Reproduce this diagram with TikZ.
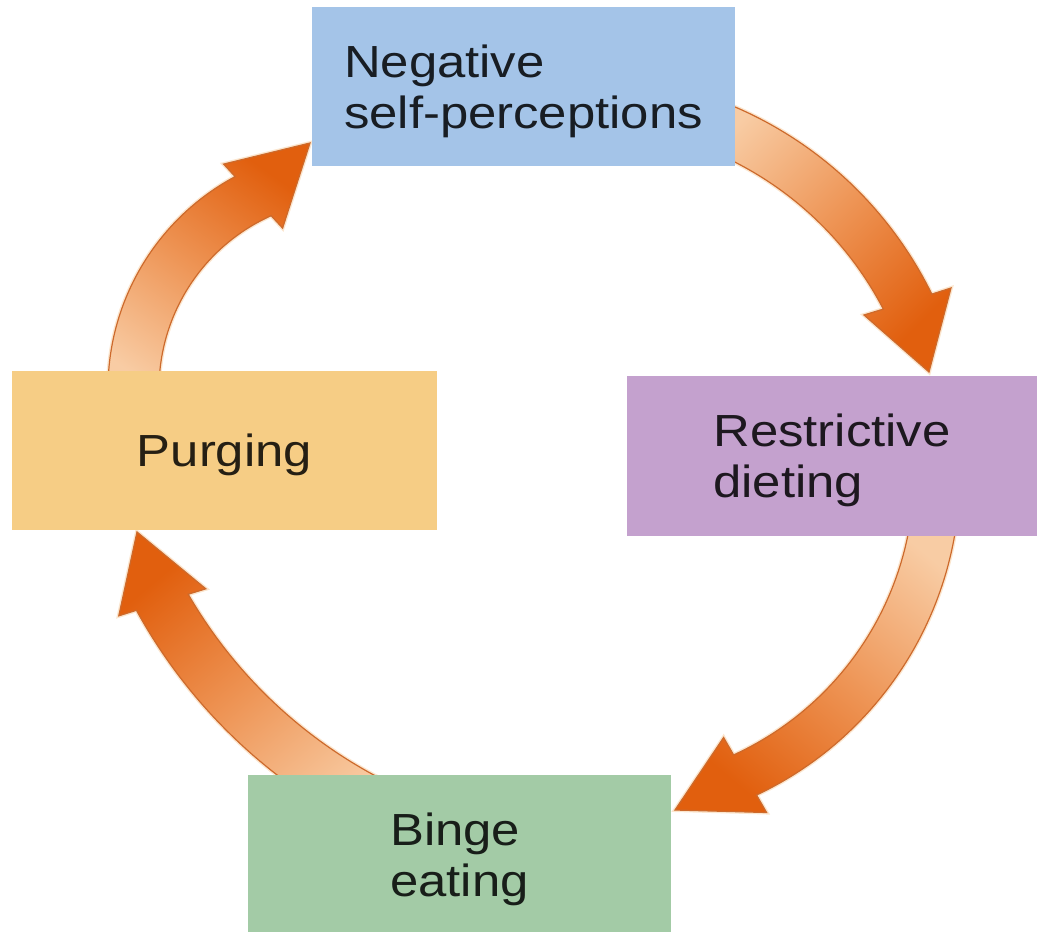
\documentclass[tikz,border=0pt]{standalone}
\usepackage{fontspec}
\setmainfont[FakeStretch=1.13]{Liberation Sans}
\usetikzlibrary{calc}
\definecolor{cneg}{HTML}{A4C4E8}
\definecolor{cres}{HTML}{C4A1CE}
\definecolor{cpur}{HTML}{F6CD85}
\definecolor{cbin}{HTML}{A3CBA6}
\definecolor{arrlight}{HTML}{F8CCA4}
\definecolor{arrmid}{HTML}{EE9556}
\definecolor{arrdark}{HTML}{E15F0E}
\definecolor{arrline}{HTML}{CD6A2C}
\definecolor{arrglow}{HTML}{FBE6CF}
\newcommand\twoline[2]{\vbox{\hbox{#1}\hbox{#2}}}
\tikzset{
  box/.style={rectangle, inner sep=0pt, text depth=0pt, font=\fontsize{45}{51}\selectfont},
  arrowbody/.style={draw=arrline, line width=1.2pt, line join=miter,
    top color=arrlight, bottom color=arrdark, middle color=arrmid,
    preaction={draw=arrglow, line width=4pt}},
}
\begin{document}
\begin{tikzpicture}[x=1pt,y=-1pt]
\useasboundingbox (0,0) rectangle (1037,932);
\coordinate (c1) at (580,467);
\coordinate (c2) at (605,474);
\coordinate (c3) at (602,355);
\coordinate (c4) at (349,389);
% arrow: negative -> restrictive
\path[arrowbody, shading angle=45]
  ($(c1)+(-72:392)$) arc[start angle=-72, end angle=-26.17, radius=392]
  -- (951,288) -- (929,372) -- (864,315)
  -- ($(c1)+(-27.5:342)$) arc[start angle=-27.5, end angle=-72, radius=342]
  -- cycle;
% arrow: restrictive -> binge
\path[arrowbody, shading angle=-40]
  ($(c2)+(5:355)$) arc[start angle=5, end angle=64.73, radius=355]
  -- (766.6,812.5) -- (675,810) -- (723.6,737.5)
  -- ($(c2)+(65.4:309)$) arc[start angle=65.4, end angle=5, radius=309]
  -- cycle;
% arrow: binge -> purging
\path[arrowbody, shading angle=220]
  ($(c3)+(115:531)$) arc[start angle=115, end angle=151.26, radius=531]
  -- (118.8,615.8) -- (137,532) -- (205.8,588.8)
  -- ($(c3)+(149.97:478)$) arc[start angle=149.97, end angle=115, radius=478]
  -- cycle;
% arrow: purging -> negative
\path[arrowbody, shading angle=145]
  ($(c4)+(175:241)$) arc[start angle=175, end angle=241.8, radius=241]
  -- (223.6,164.1) -- (310,143) -- (282.6,228.1)
  -- ($(c4)+(245.8:190)$) arc[start angle=245.8, end angle=175, radius=190]
  -- cycle;
% boxes
\node[box, fill=cneg, text=cneg!15!black, minimum width=423pt, minimum height=159pt] (neg) at (523.5,86.5) {\twoline{Negative}{self-perceptions}};
\node[box, fill=cres, text=cres!15!black, minimum width=410pt, minimum height=160pt] (res) at (832,456) {\twoline{Restrictive}{dieting}};
\node[box, fill=cpur, text=cpur!15!black, minimum width=425pt, minimum height=159pt] (pur) at (224.5,450.5) {Purging};
\node[box, fill=cbin, text=cbin!15!black, minimum width=423pt, minimum height=159pt] (bin) at (459.5,854.5) {\twoline{Binge}{eating}};
\end{tikzpicture}
\end{document}
